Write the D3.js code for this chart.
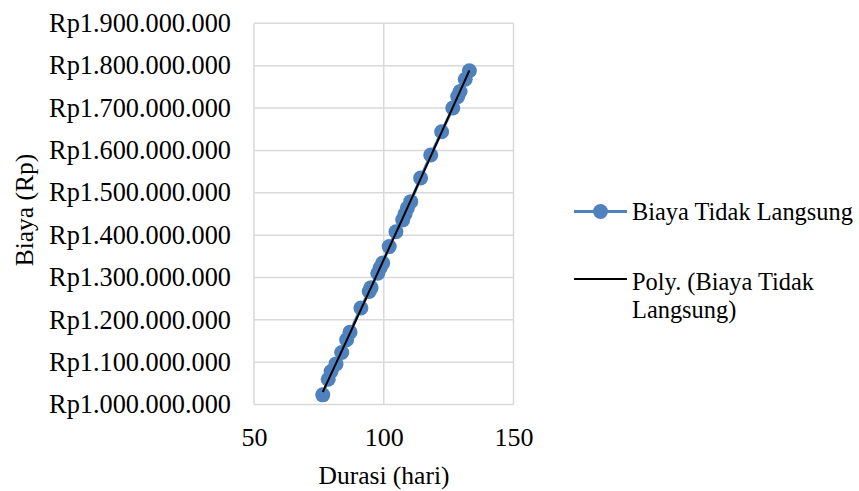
<!DOCTYPE html>
<html>
<head>
<meta charset="utf-8">
<script src="https://cdn.jsdelivr.net/npm/d3@7"></script>
<style>
  html, body { margin: 0; padding: 0; background: #fff; }
  svg text { font-family: "Liberation Serif", "Times New Roman", Times, serif; fill: #000; }
</style>
</head>
<body>
<svg id="chart" width="859" height="491"></svg>
<script>
// Durasi (hari) and Biaya Tidak Langsung (Rp)
const durasi = [76.5, 78.6, 79.7, 81.6, 83.8, 85.7, 87.0, 91.2, 94.4, 95.1, 97.7, 98.6, 99.6,
  102.1, 104.7, 107.3, 108.2, 109.1, 110.4, 114.2, 118.1, 122.3, 126.6, 128.5, 129.4, 131.4, 133.0];
const biaya = [1023e6, 1060e6, 1078e6, 1096e6, 1123e6, 1153e6, 1171e6, 1228e6, 1267e6, 1276e6, 1310e6, 1323e6, 1334e6,
  1373e6, 1408e6, 1436e6, 1450e6, 1464e6, 1479e6, 1535e6, 1589e6, 1644e6, 1700e6, 1727e6, 1739e6, 1768e6, 1788e6];
const xTicks = [50, 100, 150];
const yTicks = [1.0e9, 1.1e9, 1.2e9, 1.3e9, 1.4e9, 1.5e9, 1.6e9, 1.7e9, 1.8e9, 1.9e9];
const seriesName = "Biaya Tidak Langsung";
const trendName = ["Poly. (Biaya Tidak", "Langsung)"];

const svg = d3.select("#chart");
const plot = { left: 254, right: 513.5, top: 23.3, bottom: 404.6 };
const blue = "#4f81bd";
const grid = "#d9d9d9";
const serif = '"Liberation Serif", "Times New Roman", Times, serif';
const fs = 25.5;
const legendFs = 24.4;

const x = d3.scaleLinear().domain([50, 150]).range([plot.left, plot.right]);
const y = d3.scaleLinear().domain([1.0e9, 1.9e9]).range([plot.bottom, plot.top]);

const fmtRp = v => "Rp" + d3.format(",")(v).replace(/,/g, ".");

// gridlines
svg.append("g").selectAll("line").data(yTicks).join("line")
  .attr("x1", plot.left).attr("x2", plot.right)
  .attr("y1", d => y(d)).attr("y2", d => y(d))
  .attr("stroke", grid).attr("stroke-width", 1.5);
svg.append("g").selectAll("line").data(xTicks).join("line")
  .attr("y1", plot.top).attr("y2", plot.bottom)
  .attr("x1", d => x(d)).attr("x2", d => x(d))
  .attr("stroke", grid).attr("stroke-width", 1.5);

// axes (labels only)
const yAxis = d3.axisLeft(y).tickValues(yTicks).tickFormat(fmtRp).tickSize(0).tickPadding(23);
svg.append("g").attr("transform", `translate(${plot.left},0)`).call(yAxis)
  .attr("font-family", serif)
  .call(g => g.select(".domain").remove())
  .call(g => g.selectAll("text").attr("font-size", 26.3).attr("dy", "0.31em"));
const xAxis = d3.axisBottom(x).tickValues(xTicks).tickFormat(d3.format("d")).tickSize(0).tickPadding(22.5);
svg.append("g").attr("transform", `translate(0,${plot.bottom})`).call(xAxis)
  .attr("font-family", serif)
  .call(g => g.select(".domain").remove())
  .call(g => g.selectAll("text").attr("font-size", 26));

// axis titles
svg.append("text").attr("x", 384).attr("y", 484)
  .attr("text-anchor", "middle").attr("font-size", fs).text("Durasi (hari)");
svg.append("text").attr("transform", `translate(33,210) rotate(-90)`)
  .attr("text-anchor", "middle").attr("font-size", fs).text("Biaya (Rp)");

// series line + markers
const pts = durasi.map((d, i) => [d, biaya[i]]);
svg.append("path").datum(pts)
  .attr("d", d3.line().x(d => x(d[0])).y(d => y(d[1])))
  .attr("fill", "none").attr("stroke", blue).attr("stroke-width", 3);
svg.append("g").selectAll("circle").data(pts).join("circle")
  .attr("cx", d => x(d[0])).attr("cy", d => y(d[1])).attr("r", 7.5)
  .attr("fill", blue);

// polynomial (order 2) trendline by least squares
function polyFit(xs, ys) {
  const n = xs.length;
  let s = [0, 0, 0, 0, 0], t = [0, 0, 0];
  for (let i = 0; i < n; i++) {
    const xi = xs[i] / 100, yi = ys[i] / 1e9;
    for (let k = 0; k < 5; k++) s[k] += Math.pow(xi, k);
    for (let k = 0; k < 3; k++) t[k] += Math.pow(xi, k) * yi;
  }
  const A = [[s[0], s[1], s[2], t[0]], [s[1], s[2], s[3], t[1]], [s[2], s[3], s[4], t[2]]];
  for (let c = 0; c < 3; c++) {
    for (let r = c + 1; r < 3; r++) {
      const f = A[r][c] / A[c][c];
      for (let k = c; k < 4; k++) A[r][k] -= f * A[c][k];
    }
  }
  const b = [0, 0, 0];
  for (let r = 2; r >= 0; r--) {
    let v = A[r][3];
    for (let k = r + 1; k < 3; k++) v -= A[r][k] * b[k];
    b[r] = v / A[r][r];
  }
  return xv => 1e9 * (b[0] + b[1] * (xv / 100) + b[2] * (xv / 100) ** 2);
}
const fit = polyFit(durasi, biaya);
const x0 = d3.min(durasi), x1 = d3.max(durasi);
const trend = d3.range(0, 51).map(i => { const xv = x0 + (x1 - x0) * i / 50; return [xv, fit(xv)]; });
svg.append("path").datum(trend)
  .attr("d", d3.line().x(d => x(d[0])).y(d => y(d[1])))
  .attr("fill", "none").attr("stroke", "#000").attr("stroke-width", 2);

// legend
const lg = svg.append("g").attr("font-family", serif);
lg.append("line").attr("x1", 574).attr("x2", 627).attr("y1", 211.5).attr("y2", 211.5)
  .attr("stroke", blue).attr("stroke-width", 3);
lg.append("circle").attr("cx", 600.5).attr("cy", 211.5).attr("r", 7.5).attr("fill", blue);
lg.append("text").attr("x", 632).attr("y", 220).attr("font-size", legendFs).text(seriesName);
lg.append("line").attr("x1", 574).attr("x2", 627).attr("y1", 279).attr("y2", 279)
  .attr("stroke", "#000").attr("stroke-width", 2);
lg.append("text").attr("x", 632).attr("y", 290).attr("font-size", legendFs).text(trendName[0]);
lg.append("text").attr("x", 632).attr("y", 318).attr("font-size", legendFs).text(trendName[1]);
</script>
</body>
</html>
